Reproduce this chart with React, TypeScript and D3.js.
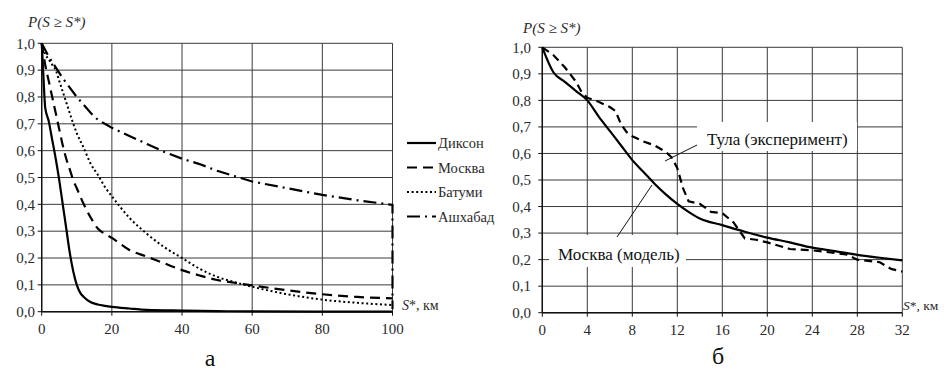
import React from "react";
import * as d3 from "d3";

// ---------- data: chart "а" ----------
const leftXTicks = [0, 20, 40, 60, 80, 100];
const yTicks = [0, 0.1, 0.2, 0.3, 0.4, 0.5, 0.6, 0.7, 0.8, 0.9, 1.0];

const diksonX = [0, 0.3, 0.7, 1, 2, 3, 4, 5, 6, 7, 8, 9, 10, 11, 12, 14, 16, 18, 20, 25, 30, 40, 50, 60, 100];
const diksonY = [1.0, 0.93, 0.82, 0.76, 0.71, 0.64, 0.57, 0.49, 0.40, 0.31, 0.22, 0.15, 0.10, 0.07, 0.055, 0.035, 0.027, 0.022, 0.018, 0.012, 0.007, 0.004, 0.002, 0.001, 0.0];

const moscowX = [0, 1, 2, 3, 4, 5, 6, 7, 8, 9, 10, 12, 14, 16, 18, 20, 25, 30, 35, 40, 45, 50, 55, 60, 70, 80, 90, 100];
const moscowY = [1.0, 0.92, 0.86, 0.80, 0.74, 0.68, 0.62, 0.57, 0.53, 0.49, 0.46, 0.40, 0.35, 0.31, 0.29, 0.275, 0.23, 0.205, 0.18, 0.155, 0.135, 0.118, 0.108, 0.098, 0.08, 0.065, 0.055, 0.05];

const batumiX = [0, 1, 2, 3, 4, 5, 6, 7, 8, 9, 10, 12, 14, 16, 18, 20, 25, 30, 35, 40, 45, 50, 55, 60, 70, 80, 90, 100];
const batumiY = [1.0, 0.96, 0.94, 0.92, 0.90, 0.86, 0.82, 0.78, 0.74, 0.70, 0.665, 0.61, 0.55, 0.51, 0.465, 0.43, 0.35, 0.29, 0.24, 0.20, 0.16, 0.13, 0.11, 0.093, 0.065, 0.045, 0.033, 0.025];

const ashX = [0, 2, 4, 6, 8, 10, 12, 14, 16, 18, 20, 25, 30, 35, 40, 45, 50, 55, 60, 70, 80, 90, 100, 100];
const ashY = [1.0, 0.95, 0.91, 0.87, 0.835, 0.80, 0.77, 0.74, 0.715, 0.70, 0.685, 0.655, 0.625, 0.595, 0.57, 0.55, 0.525, 0.505, 0.485, 0.46, 0.435, 0.415, 0.398, 0.01];

const legendNames = ["Диксон", "Москва", "Батуми", "Ашхабад"];

// ---------- data: chart "б" ----------
const rightXTicks = [0, 4, 8, 12, 16, 20, 24, 28, 32];

const modelX = [0, 1, 2, 3, 4, 5, 6, 7, 8, 9, 10, 11, 12, 13, 14, 16, 18, 20, 22, 24, 26, 28, 30, 32];
const modelY = [1.0, 0.905, 0.87, 0.835, 0.80, 0.74, 0.685, 0.63, 0.575, 0.53, 0.485, 0.445, 0.41, 0.38, 0.355, 0.33, 0.305, 0.283, 0.265, 0.245, 0.232, 0.218, 0.207, 0.197];

const tulaX = [0, 1, 2, 3, 3.5, 4, 5, 6, 6.5, 7, 7.5, 8, 9, 10, 11, 11.5, 12, 12.5, 13, 14, 15, 16, 17, 18, 19, 20, 22, 24, 26, 27, 28, 30, 31, 32];
const tulaY = [1.0, 0.97, 0.925, 0.87, 0.83, 0.81, 0.795, 0.775, 0.76, 0.71, 0.68, 0.665, 0.645, 0.63, 0.605, 0.585, 0.545, 0.47, 0.42, 0.41, 0.38, 0.375, 0.34, 0.28, 0.275, 0.265, 0.24, 0.235, 0.225, 0.22, 0.2, 0.19, 0.165, 0.155];

const FONT = "Liberation Serif, DejaVu Serif, Noto Serif, FreeSerif, Times New Roman, Times, serif";
const zip = (xs: number[], ys: number[]) => xs.map((x, i) => [x, ys[i]] as [number, number]);
const fmt = (v: number) => v.toFixed(1).replace(".", ",");

export default function App() {
  const W = 949, H = 371;
  const xL = d3.scaleLinear().domain([0, 100]).range([41.7, 392.5]);
  const yL = d3.scaleLinear().domain([0, 1]).range([311.7, 43.3]);
  const xR = d3.scaleLinear().domain([0, 32]).range([542.3, 902.3]);
  const yR = d3.scaleLinear().domain([0, 1]).range([312.7, 47.3]);

  const lineL = d3.line<[number, number]>().x((d) => xL(d[0])).y((d) => yL(d[1])).curve(d3.curveMonotoneX);
  const lineLlin = d3.line<[number, number]>().x((d) => xL(d[0])).y((d) => yL(d[1]));
  const lineR = d3.line<[number, number]>().x((d) => xR(d[0])).y((d) => yR(d[1])).curve(d3.curveMonotoneX);
  const lineRlin = d3.line<[number, number]>().x((d) => xR(d[0])).y((d) => yR(d[1]));

  const gridColor = "#3a3a3a";
  const textColor = "#2a2a2a";

  const styles = [
    { dash: "none" },
    { dash: "10,6" },
    { dash: "2,2.6" },
    { dash: "13,5,2,5" },
  ];

  const tf = { fontFamily: FONT };

  const grid = (xs: number[], x: d3.ScaleLinear<number, number>, y: d3.ScaleLinear<number, number>, key: string) => (
    <g key={key}>
      {yTicks.map((t) => (
        <line key={"h" + t} x1={x.range()[0]} x2={x.range()[1]} y1={y(t)} y2={y(t)} stroke={gridColor} strokeWidth={1} />
      ))}
      {xs.map((t) => (
        <line key={"v" + t} x1={x(t)} x2={x(t)} y1={y(0)} y2={y(1)} stroke={gridColor} strokeWidth={1} />
      ))}
      <line x1={x.range()[0]} x2={x.range()[0]} y1={y(0)} y2={y(1)} stroke="#111" strokeWidth={1.4} />
      <line x1={x.range()[0]} x2={x.range()[1]} y1={y(0)} y2={y(0)} stroke="#111" strokeWidth={1.4} />
      {yTicks.map((t) => (
        <line key={"yt" + t} x1={x.range()[0] - 4} x2={x.range()[0]} y1={y(t)} y2={y(t)} stroke="#111" strokeWidth={1} />
      ))}
      {xs.map((t) => (
        <line key={"xt" + t} x1={x(t)} x2={x(t)} y1={y(0)} y2={y(0) + 4} stroke="#111" strokeWidth={1} />
      ))}
    </g>
  );

  return (
    <svg width={W} height={H} style={{ position: "absolute", left: 0, top: 0, background: "#fff", fontFamily: FONT }}>
      <rect x={0} y={0} width={W} height={H} fill="#fff" />

      {/* ===== Chart а ===== */}
      {grid(leftXTicks, xL, yL, "gl")}
      {yTicks.map((t) => (
        <text key={"ly" + t} style={tf} x={35} y={yL(t)} dy="0.35em" textAnchor="end" fontSize={15} fill={textColor}>{fmt(t)}</text>
      ))}
      {leftXTicks.map((t) => (
        <text key={"lx" + t} style={tf} x={xL(t)} y={329} dy="0.35em" textAnchor="middle" fontSize={15} fill={textColor}>{t}</text>
      ))}
      <text style={tf} x={28} y={27} fontSize={15} fill={textColor} fontStyle="italic">P(S ≥ S*)</text>
      <text style={tf} x={402} y={310} fontSize={14} fill={textColor}><tspan fontStyle="italic">S</tspan>*, км</text>

      <path d={lineL(zip(diksonX, diksonY)) || ""} fill="none" stroke="#000" strokeWidth={2.2} />
      <path d={lineL(zip(moscowX, moscowY)) || ""} fill="none" stroke="#000" strokeWidth={2.2} strokeDasharray={styles[1].dash} />
      <path d={lineL(zip(batumiX, batumiY)) || ""} fill="none" stroke="#000" strokeWidth={2} strokeDasharray={styles[2].dash} />
      <path d={lineLlin(zip(ashX, ashY)) || ""} fill="none" stroke="#000" strokeWidth={2.2} strokeDasharray={styles[3].dash} />

      {legendNames.map((n, i) => {
        const yy = 143 + i * 24.5;
        return (
          <g key={n}>
            <line x1={407} x2={436} y1={yy} y2={yy} stroke="#000" strokeWidth={2.2} strokeDasharray={styles[i].dash} />
            <text style={tf} x={438} y={yy} dy="0.35em" fontSize={14.5} fill={textColor}>{n}</text>
          </g>
        );
      })}
      <text style={tf} x={210} y={366} textAnchor="middle" fontSize={24} fill="#111">а</text>

      {/* ===== Chart б ===== */}
      {grid(rightXTicks, xR, yR, "gr")}
      {yTicks.map((t) => (
        <text key={"ry" + t} style={tf} x={531} y={yR(t)} dy="0.35em" textAnchor="end" fontSize={15} fill={textColor}>{fmt(t)}</text>
      ))}
      {rightXTicks.map((t) => (
        <text key={"rx" + t} style={tf} x={xR(t)} y={330} dy="0.35em" textAnchor="middle" fontSize={15} fill={textColor}>{t}</text>
      ))}
      <text style={tf} x={523} y={33} fontSize={15} fill={textColor} fontStyle="italic">P(S ≥ S*)</text>
      <text style={tf} x={903} y={310} fontSize={13.5} fill={textColor}><tspan fontStyle="italic">S</tspan>*, км</text>

      <path d={lineR(zip(modelX, modelY)) || ""} fill="none" stroke="#000" strokeWidth={2.2} />
      <path d={lineRlin(zip(tulaX, tulaY)) || ""} fill="none" stroke="#000" strokeWidth={2.2} strokeDasharray="8,5" />

      <rect x={697} y={122} width={160} height={29} fill="#fff" />
      <text style={tf} x={707} y={145} fontSize={17} fill="#111">Тула (эксперимент)</text>
      <line x1={665} y1={161} x2={697} y2={145} stroke="#111" strokeWidth={1} />

      <rect x={549} y={235} width={137} height={32} fill="#fff" />
      <text style={tf} x={558} y={260} fontSize={17} fill="#111">Москва (модель)</text>
      <line x1={617} y1={237} x2={652} y2={185} stroke="#111" strokeWidth={1} />

      <text style={tf} x={718} y={364} textAnchor="middle" fontSize={24} fill="#111">б</text>
    </svg>
  );
}
